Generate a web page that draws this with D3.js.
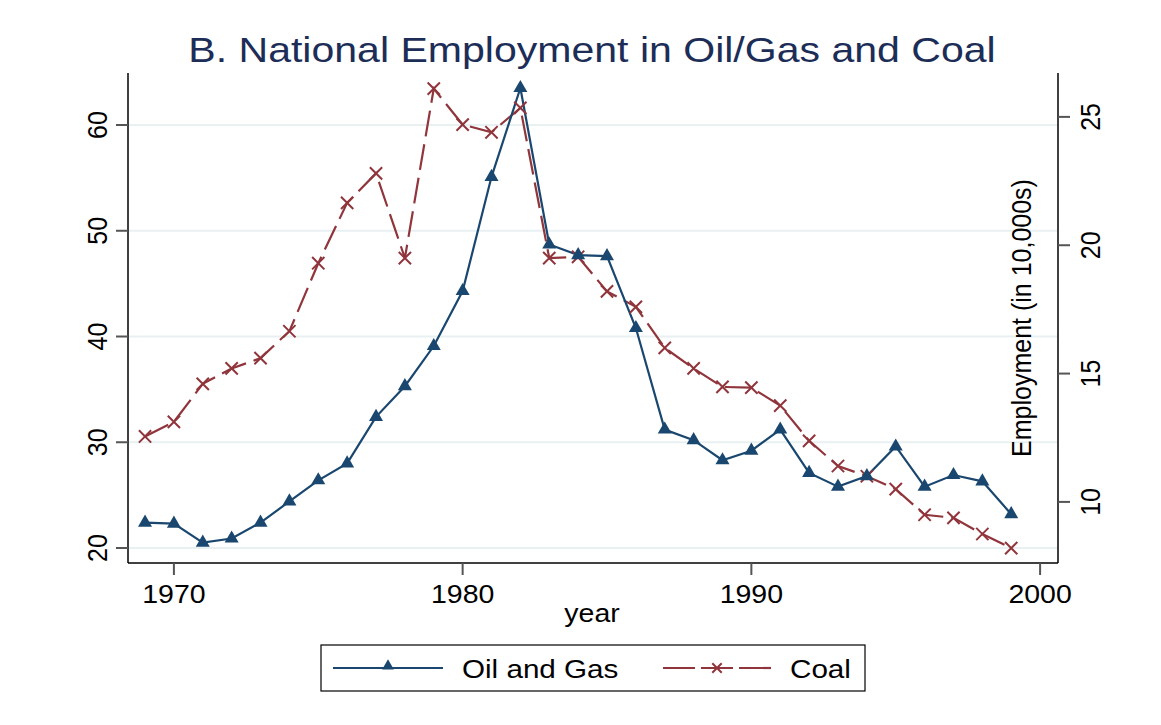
<!DOCTYPE html>
<html>
<head>
<meta charset="utf-8">
<script src="https://cdn.jsdelivr.net/npm/d3@7"></script>
<style>
 body{margin:0;background:#fff;}
 text{font-family:"Liberation Sans",Arial,sans-serif;fill:#000;}
</style>
</head>
<body>
<div id="chart"></div>
<script>
// data
var years = d3.range(1969, 2000);
var oilGas = [22.4,22.3,20.5,20.9,22.4,24.4,26.4,28.0,32.4,35.3,39.1,44.3,55.1,63.5,48.7,47.7,47.6,40.8,31.2,30.2,28.3,29.2,31.2,27.1,25.8,26.8,29.6,25.8,26.9,26.3,23.2];
var coal = [12.55,13.12,14.6,15.2,15.6,16.65,19.3,21.65,22.8,19.5,26.1,24.7,24.4,25.35,19.5,19.55,18.2,17.6,16.0,15.2,14.48,14.45,13.75,12.38,11.4,11.0,10.5,9.5,9.38,8.75,8.2];
var xTicks = [1970,1980,1990,2000];
var leftTicks = [20,30,40,50,60];
var rightTicks = [10,15,20,25];

var W = 1161, H = 725;
var SX = 1.14; // horizontal stretch of the reference text
var oilColor = "#1a476f", coalColor = "#90353b";

var svg = d3.select("#chart").append("svg")
  .attr("width", W).attr("height", H)
  .style("display","block");

var x = d3.scaleLinear().domain([1968.41, 2000.62]).range([128, 1058]);
var yL = d3.scaleLinear().domain([18.58, 64.92]).range([563, 73]);
var yR = d3.scaleLinear().domain([7.62, 26.71]).range([563, 73]);

function label(g, tx, ty, str, size, rot, anchor){
  return g.append("text")
    .attr("transform", "translate(" + tx + "," + ty + ")" + (rot ? " rotate(" + rot + ")" : "") + (rot ? " scale(1," + SX + ")" : " scale(" + SX + ",1)"))
    .attr("text-anchor", anchor || "middle")
    .style("font-size", size + "px")
    .text(str);
}

// title
label(svg, 592, 62, "B. National Employment in Oil/Gas and Coal", 36, 0).style("fill", "#1c2d57");

// gridlines
svg.append("g").selectAll("line").data(leftTicks).enter().append("line")
  .attr("x1", 129).attr("x2", 1057)
  .attr("y1", function(d){ return yL(d); }).attr("y2", function(d){ return yL(d); })
  .attr("stroke", "#e8f0f2").attr("stroke-width", 2);

// axes
var axisG = svg.append("g");
axisG.append("line").attr("x1",128).attr("x2",128).attr("y1",73).attr("y2",563).attr("stroke","#000").attr("stroke-width",1.5);
axisG.append("line").attr("x1",1058).attr("x2",1058).attr("y1",73).attr("y2",563).attr("stroke","#000").attr("stroke-width",1.5);
axisG.append("line").attr("x1",128).attr("x2",1058).attr("y1",563).attr("y2",563).attr("stroke","#000").attr("stroke-width",1.5);

axisG.selectAll(".lt").data(leftTicks).enter().append("line")
  .attr("x1",116).attr("x2",128)
  .attr("y1",function(d){return yL(d);}).attr("y2",function(d){return yL(d);})
  .attr("stroke","#555").attr("stroke-width",2);
leftTicks.forEach(function(d){ label(axisG, 107, yL(d), d, 25, -90); });

axisG.selectAll(".rt").data(rightTicks).enter().append("line")
  .attr("x1",1058).attr("x2",1070)
  .attr("y1",function(d){return yR(d);}).attr("y2",function(d){return yR(d);})
  .attr("stroke","#555").attr("stroke-width",2);
rightTicks.forEach(function(d){ label(axisG, 1100, yR(d), d, 25, -90); });

axisG.selectAll(".bt").data(xTicks).enter().append("line")
  .attr("x1",function(d){return x(d);}).attr("x2",function(d){return x(d);})
  .attr("y1",563).attr("y2",575)
  .attr("stroke","#555").attr("stroke-width",2);
xTicks.forEach(function(d){ label(axisG, x(d), 603, d, 25, 0); });

label(axisG, 592, 622, "year", 25, 0);
label(axisG, 1031, 318, "Employment (in 10,000s)", 25, -90);

// series
var oilData = years.map(function(yr,i){ return {x:yr, y:oilGas[i]}; });
var coalData = years.map(function(yr,i){ return {x:yr, y:coal[i]}; });

svg.append("path").datum(coalData)
  .attr("fill","none").attr("stroke",coalColor).attr("stroke-width",2.2)
  .attr("stroke-dasharray","26,8")
  .attr("d", d3.line().x(function(d){return x(d.x);}).y(function(d){return yR(d.y);}));

svg.append("path").datum(oilData)
  .attr("fill","none").attr("stroke",oilColor).attr("stroke-width",2.2)
  .attr("d", d3.line().x(function(d){return x(d.x);}).y(function(d){return yL(d.y);}));

var tri = d3.symbol().type(d3.symbolTriangle).size(85);
var cross = d3.symbol().type(d3.symbolX).size(100);

svg.append("g").selectAll("path").data(coalData).enter().append("path")
  .attr("d", cross)
  .attr("transform", function(d){ return "translate(" + x(d.x) + "," + yR(d.y) + ")"; })
  .attr("fill","none").attr("stroke",coalColor).attr("stroke-width",2);

svg.append("g").selectAll("path").data(oilData).enter().append("path")
  .attr("d", tri)
  .attr("transform", function(d){ return "translate(" + x(d.x) + "," + yL(d.y) + ")"; })
  .attr("fill",oilColor);

// legend
var lg = svg.append("g");
lg.append("rect").attr("x",321).attr("y",645).attr("width",544).attr("height",46)
  .attr("fill","#fff").attr("stroke","#000").attr("stroke-width",1.2);
lg.append("line").attr("x1",333).attr("x2",443).attr("y1",668).attr("y2",668)
  .attr("stroke",oilColor).attr("stroke-width",2.2);
lg.append("path").attr("d",d3.symbol().type(d3.symbolTriangle).size(60)).attr("transform","translate(388,666)").attr("fill",oilColor);
label(lg, 462, 678, "Oil and Gas", 26, 0, "start");
lg.append("line").attr("x1",663).attr("x2",772).attr("y1",668).attr("y2",668)
  .attr("stroke",coalColor).attr("stroke-width",2.2).attr("stroke-dasharray","32,6");
lg.append("path").attr("d",d3.symbol().type(d3.symbolX).size(60)).attr("transform","translate(717,668)")
  .attr("fill","none").attr("stroke",coalColor).attr("stroke-width",2);
label(lg, 790, 678, "Coal", 26, 0, "start");
</script>
</body>
</html>
